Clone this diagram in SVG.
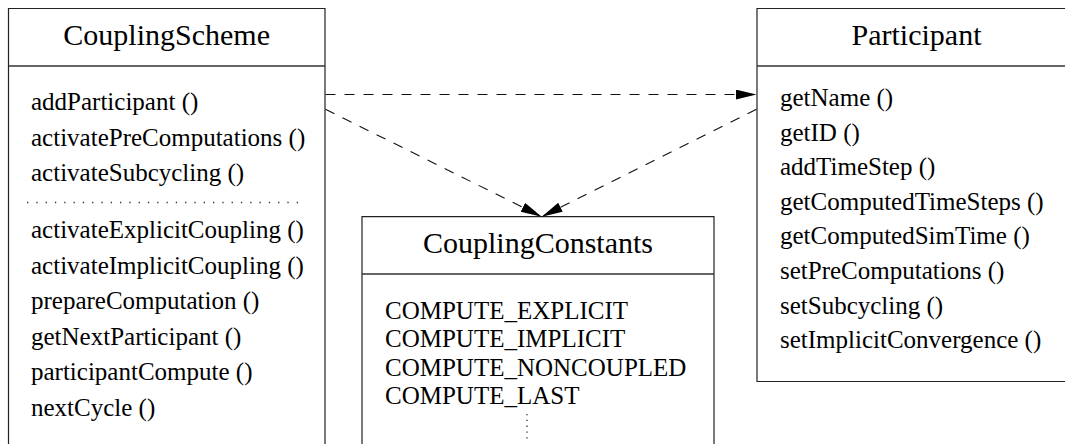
<svg xmlns="http://www.w3.org/2000/svg" width="1065" height="444" viewBox="0 0 1065 444">
<style>
.box{fill:#fff;stroke:#222;stroke-width:1.2}
.div{stroke:#333;stroke-width:1.4;fill:none}
.title{font-family:"Liberation Serif","Times New Roman",serif;font-size:30px;fill:#000;text-anchor:middle}
.mem{font-family:"Liberation Serif","Times New Roman",serif;font-size:25px;fill:#000}
.dots{stroke:#333;stroke-width:1.3;stroke-dasharray:1.3,8;fill:none}
.conn{stroke:#111;stroke-width:1.1;stroke-dasharray:10,9;fill:none}
</style>
<defs>
<marker id="arr" markerUnits="userSpaceOnUse" markerWidth="22" markerHeight="12" refX="21" refY="5" orient="auto">
<path d="M0,0 L21,5 L0,10 z" fill="#000"/>
</marker>
</defs>
<rect width="1065" height="444" fill="#fff"/>
<g id="CouplingScheme">
<path class="box" d="M8.5,452 V8.5 H325 V452"/>
<line class="div" x1="8.5" y1="66" x2="325" y2="66"/>
<text class="title" x="166.7" y="45">CouplingScheme</text>
<text class="mem" x="31" y="110">addParticipant ()</text>
<text class="mem" x="31" y="145.6">activatePreComputations ()</text>
<text class="mem" x="31" y="181.2">activateSubcycling ()</text>
<line class="dots" x1="27" y1="202.5" x2="306" y2="202.5"/>
<text class="mem" x="31" y="238">activateExplicitCoupling ()</text>
<text class="mem" x="31" y="273.6">activateImplicitCoupling ()</text>
<text class="mem" x="31" y="309.2">prepareComputation ()</text>
<text class="mem" x="31" y="344.8">getNextParticipant ()</text>
<text class="mem" x="31" y="380.4">participantCompute ()</text>
<text class="mem" x="31" y="416">nextCycle ()</text>
</g>
<g id="Participant">
<path class="box" d="M1080,8.5 H757 V381.5 H1080"/>
<line class="div" x1="757" y1="66" x2="1080" y2="66"/>
<text class="title" x="916.5" y="45">Participant</text>
<text class="mem" x="780" y="106">getName ()</text>
<text class="mem" x="780" y="140.6">getID ()</text>
<text class="mem" x="780" y="175.2">addTimeStep ()</text>
<text class="mem" x="780" y="209.8">getComputedTimeSteps ()</text>
<text class="mem" x="780" y="244.4">getComputedSimTime ()</text>
<text class="mem" x="780" y="279">setPreComputations ()</text>
<text class="mem" x="780" y="313.6">setSubcycling ()</text>
<text class="mem" x="780" y="348.2">setImplicitConvergence ()</text>
</g>
<g id="CouplingConstants">
<path class="box" d="M362,452 V216.7 H714 V452"/>
<line class="div" x1="362" y1="274" x2="714" y2="274"/>
<text class="title" x="538" y="253">CouplingConstants</text>
<text class="mem" x="385" y="318.5">COMPUTE_EXPLICIT</text>
<text class="mem" x="385" y="347">COMPUTE_IMPLICIT</text>
<text class="mem" x="385" y="375.5">COMPUTE_NONCOUPLED</text>
<text class="mem" x="385" y="404">COMPUTE_LAST</text>
<line class="dots" x1="527" y1="414" x2="527" y2="440" style="stroke-dasharray:1.3,4.5"/>
</g>
<g id="connectors">
<line class="conn" x1="325.5" y1="94.5" x2="756.5" y2="94.5" marker-end="url(#arr)"/>
<line class="conn" x1="325.5" y1="109.3" x2="541.7" y2="216.7" marker-end="url(#arr)"/>
<line class="conn" x1="756.5" y1="109.3" x2="541.7" y2="216.7" marker-end="url(#arr)"/>
</g>
</svg>
